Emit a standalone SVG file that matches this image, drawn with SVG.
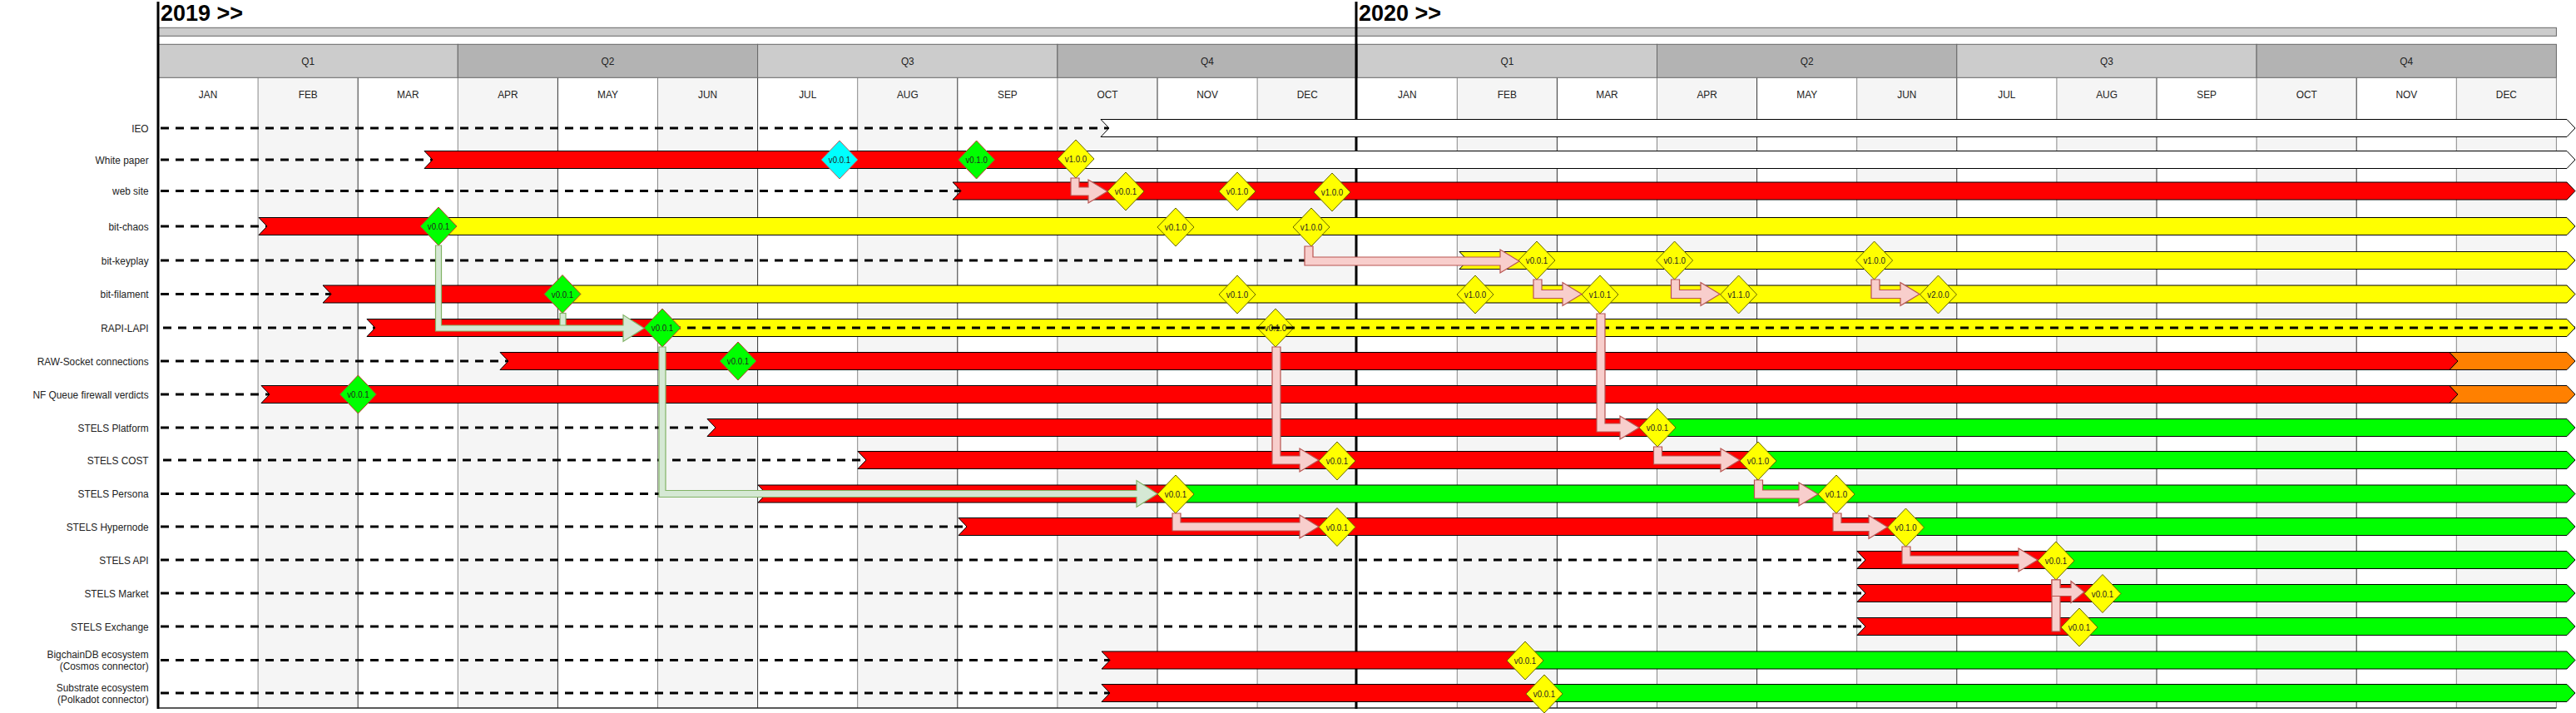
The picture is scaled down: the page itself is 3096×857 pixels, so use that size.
<svg xmlns="http://www.w3.org/2000/svg" xmlns:xlink="http://www.w3.org/1999/xlink" width="3096" height="857" viewBox="0 0 3096 857">
<defs>
<style>
text{font-family:"Liberation Sans",Arial,sans-serif;fill:#222}
.lbl{font-size:13.5px;text-anchor:end}
.mo{font-size:13.5px;text-anchor:middle}
.ms{font-size:11px;text-anchor:middle;fill:#222}
.yr{font-size:27px;font-weight:bold;fill:#000}
.dash{stroke:#000;stroke-width:3;stroke-dasharray:10 8;fill:none}
.bar{stroke:#000;stroke-width:1}
.red{fill:#FF0000}.yel{fill:#FFFF00}.grn{fill:#00FF00}.wht{fill:#FFFFFF}.org{fill:#FF8000}
.dy{fill:#FFFF00;stroke:#666600;stroke-width:1}
.dg{fill:#00FF00;stroke:#c0392b;stroke-width:1}
.dc{fill:#00FFFF;stroke:#c06060;stroke-width:1}
.pk{fill:#f8cecc;stroke:#b85450;stroke-width:1.2}
.gc{fill:#d5e8d4;stroke:#82b366;stroke-width:1.2}
.q1{fill:#CCCCCC;stroke:#666;stroke-width:1}
.q2{fill:#B3B3B3;stroke:#666;stroke-width:1}
.vb{stroke:#333;stroke-width:1}
.vg{stroke:#888;stroke-width:1}
</style>
<polygon id="dm" points="0,-23 22,0 0,23 -22,0"/>
</defs>
<rect width="3096" height="857" fill="#fff"/>

<g id="grid">
  <!-- gray month columns -->
  <g fill="#F5F5F5">
    <rect x="310.1" y="93.3" width="120.1" height="757.7"/>
    <rect x="550.3" y="93.3" width="120.1" height="757.7"/>
    <rect x="790.5" y="93.3" width="120.1" height="757.7"/>
    <rect x="1030.7" y="93.3" width="120.1" height="757.7"/>
    <rect x="1270.9" y="93.3" width="120.1" height="757.7"/>
    <rect x="1511.1" y="93.3" width="120.1" height="757.7"/>
    <rect x="1751.3" y="93.3" width="120.1" height="757.7"/>
    <rect x="1991.5" y="93.3" width="120.1" height="757.7"/>
    <rect x="2231.7" y="93.3" width="120.1" height="757.7"/>
    <rect x="2471.9" y="93.3" width="120.1" height="757.7"/>
    <rect x="2712.1" y="93.3" width="120.1" height="757.7"/>
    <rect x="2952.3" y="93.3" width="120.1" height="757.7"/>
  </g>
  <g>
    <line class="vg" x1="310.1" y1="93.3" x2="310.1" y2="851"/>
    <line class="vb" x1="430.2" y1="93.3" x2="430.2" y2="851"/>
    <line class="vg" x1="550.3" y1="93.3" x2="550.3" y2="851"/>
    <line class="vb" x1="670.4" y1="93.3" x2="670.4" y2="851"/>
    <line class="vg" x1="790.5" y1="93.3" x2="790.5" y2="851"/>
    <line class="vb" x1="910.6" y1="93.3" x2="910.6" y2="851"/>
    <line class="vg" x1="1030.7" y1="93.3" x2="1030.7" y2="851"/>
    <line class="vb" x1="1150.8" y1="93.3" x2="1150.8" y2="851"/>
    <line class="vg" x1="1270.9" y1="93.3" x2="1270.9" y2="851"/>
    <line class="vb" x1="1391" y1="93.3" x2="1391" y2="851"/>
    <line class="vg" x1="1511.1" y1="93.3" x2="1511.1" y2="851"/>
    <line class="vg" x1="1751.3" y1="93.3" x2="1751.3" y2="851"/>
    <line class="vb" x1="1871.4" y1="93.3" x2="1871.4" y2="851"/>
    <line class="vg" x1="1991.5" y1="93.3" x2="1991.5" y2="851"/>
    <line class="vb" x1="2111.6" y1="93.3" x2="2111.6" y2="851"/>
    <line class="vg" x1="2231.7" y1="93.3" x2="2231.7" y2="851"/>
    <line class="vb" x1="2351.8" y1="93.3" x2="2351.8" y2="851"/>
    <line class="vg" x1="2471.9" y1="93.3" x2="2471.9" y2="851"/>
    <line class="vb" x1="2592" y1="93.3" x2="2592" y2="851"/>
    <line class="vg" x1="2712.1" y1="93.3" x2="2712.1" y2="851"/>
    <line class="vb" x1="2832.2" y1="93.3" x2="2832.2" y2="851"/>
    <line class="vg" x1="2952.3" y1="93.3" x2="2952.3" y2="851"/>
    <line class="vg" x1="3072.4" y1="93.3" x2="3072.4" y2="851"/>
    <line x1="190" y1="851" x2="3072.4" y2="851" stroke="#222" stroke-width="1.5"/>
  </g>
  <!-- top bar -->
  <rect x="190" y="33.3" width="2882.4" height="10" fill="#CCCCCC" stroke="#666" stroke-width="1"/>
  <!-- quarters -->
  <rect class="q1" x="190" y="53.3" width="360.3" height="40"/>
  <rect class="q2" x="550.3" y="53.3" width="360.3" height="40"/>
  <rect class="q1" x="910.6" y="53.3" width="360.3" height="40"/>
  <rect class="q2" x="1270.9" y="53.3" width="360.3" height="40"/>
  <rect class="q1" x="1631.2" y="53.3" width="360.3" height="40"/>
  <rect class="q2" x="1991.5" y="53.3" width="360.3" height="40"/>
  <rect class="q1" x="2351.8" y="53.3" width="360.3" height="40"/>
  <rect class="q2" x="2712.1" y="53.3" width="360.3" height="40"/>
  <text class="mo" transform="matrix(0.88 0 0 1 370.2 78)">Q1</text>
  <text class="mo" transform="matrix(0.88 0 0 1 730.4 78)">Q2</text>
  <text class="mo" transform="matrix(0.88 0 0 1 1090.8 78)">Q3</text>
  <text class="mo" transform="matrix(0.88 0 0 1 1451 78)">Q4</text>
  <text class="mo" transform="matrix(0.88 0 0 1 1811.4 78)">Q1</text>
  <text class="mo" transform="matrix(0.88 0 0 1 2171.6 78)">Q2</text>
  <text class="mo" transform="matrix(0.88 0 0 1 2532 78)">Q3</text>
  <text class="mo" transform="matrix(0.88 0 0 1 2892.2 78)">Q4</text>
  <!-- months -->
  <text class="mo" transform="matrix(0.88 0 0 1 250 118)">JAN</text>
  <text class="mo" transform="matrix(0.88 0 0 1 370.2 118)">FEB</text>
  <text class="mo" transform="matrix(0.88 0 0 1 490.3 118)">MAR</text>
  <text class="mo" transform="matrix(0.88 0 0 1 610.4 118)">APR</text>
  <text class="mo" transform="matrix(0.88 0 0 1 730.5 118)">MAY</text>
  <text class="mo" transform="matrix(0.88 0 0 1 850.6 118)">JUN</text>
  <text class="mo" transform="matrix(0.88 0 0 1 970.7 118)">JUL</text>
  <text class="mo" transform="matrix(0.88 0 0 1 1090.8 118)">AUG</text>
  <text class="mo" transform="matrix(0.88 0 0 1 1210.9 118)">SEP</text>
  <text class="mo" transform="matrix(0.88 0 0 1 1331 118)">OCT</text>
  <text class="mo" transform="matrix(0.88 0 0 1 1451.1 118)">NOV</text>
  <text class="mo" transform="matrix(0.88 0 0 1 1571.2 118)">DEC</text>
  <text class="mo" transform="matrix(0.88 0 0 1 1691.3 118)">JAN</text>
  <text class="mo" transform="matrix(0.88 0 0 1 1811.4 118)">FEB</text>
  <text class="mo" transform="matrix(0.88 0 0 1 1931.5 118)">MAR</text>
  <text class="mo" transform="matrix(0.88 0 0 1 2051.6 118)">APR</text>
  <text class="mo" transform="matrix(0.88 0 0 1 2171.7 118)">MAY</text>
  <text class="mo" transform="matrix(0.88 0 0 1 2291.8 118)">JUN</text>
  <text class="mo" transform="matrix(0.88 0 0 1 2411.9 118)">JUL</text>
  <text class="mo" transform="matrix(0.88 0 0 1 2532 118)">AUG</text>
  <text class="mo" transform="matrix(0.88 0 0 1 2652.1 118)">SEP</text>
  <text class="mo" transform="matrix(0.88 0 0 1 2772.2 118)">OCT</text>
  <text class="mo" transform="matrix(0.88 0 0 1 2892.3 118)">NOV</text>
  <text class="mo" transform="matrix(0.88 0 0 1 3012.4 118)">DEC</text>
  <!-- year lines -->
  <line x1="190" y1="2" x2="190" y2="852" stroke="#000" stroke-width="3"/>
  <line x1="1630" y1="2" x2="1630" y2="852" stroke="#000" stroke-width="3"/>
  <text class="yr" x="193" y="25">2019 &gt;&gt;</text>
  <text class="yr" x="1633" y="25">2020 &gt;&gt;</text>
</g>

<g id="row-ieo">
  <text class="lbl" transform="matrix(0.88 0 0 1 178.6 158.8)">IEO</text>
  <line class="dash" x1="193" y1="154" x2="1333" y2="154"/>
  <path class="bar wht" d="M1323 143.5H3085L3095 154L3085 164.5H1323L1333 154Z"/>
</g>

<g id="row-whitepaper">
  <text class="lbl" transform="matrix(0.88 0 0 1 178.6 196.8)">White paper</text>
  <line class="dash" x1="193" y1="192" x2="520" y2="192"/>
  <path class="bar red" d="M510 181.5H1293L1303 192L1293 202.5H510L520 192Z"/>
  <path class="bar wht" d="M1293 181.5H3085L3095 192L3085 202.5H1293L1303 192Z"/>
  <use xlink:href="#dm" x="1009" y="192" class="dc"/>
  <text class="ms" transform="matrix(0.88 0 0 1 1009 196)">v0.0.1</text>
  <use xlink:href="#dm" x="1173.6" y="192" class="dg"/>
  <text class="ms" transform="matrix(0.88 0 0 1 1173.6 196)">v0.1.0</text>
  <use xlink:href="#dm" x="1293" y="191" class="dy"/>
  <text class="ms" transform="matrix(0.88 0 0 1 1293 195)">v1.0.0</text>
</g>

<g id="row-website">
  <text class="lbl" transform="matrix(0.88 0 0 1 178.6 234.3)">web site</text>
  <line class="dash" x1="193" y1="229.5" x2="1155" y2="229.5"/>
  <path class="bar red" d="M1145 219H3085L3095 229.5L3085 240H1145L1155 229.5Z"/>
  <use xlink:href="#dm" x="1353" y="230" class="dy"/>
  <text class="ms" transform="matrix(0.88 0 0 1 1353 234)">v0.0.1</text>
  <use xlink:href="#dm" x="1487" y="230" class="dy"/>
  <text class="ms" transform="matrix(0.88 0 0 1 1487 234)">v0.1.0</text>
  <use xlink:href="#dm" x="1601" y="231" class="dy"/>
  <text class="ms" transform="matrix(0.88 0 0 1 1601 235)">v1.0.0</text>
</g>

<g id="row-bitchaos">
  <text class="lbl" transform="matrix(0.88 0 0 1 178.6 276.8)">bit-chaos</text>
  <line class="dash" x1="193" y1="272" x2="321" y2="272"/>
  <path class="bar red" d="M311 261.5H527L537 272L527 282.5H311L321 272Z"/>
  <path class="bar yel" d="M527 261.5H3085L3095 272L3085 282.5H527L537 272Z"/>
  <use xlink:href="#dm" x="527" y="272" class="dg"/>
  <text class="ms" transform="matrix(0.88 0 0 1 527 276)">v0.0.1</text>
  <use xlink:href="#dm" x="1413" y="273" class="dy"/>
  <text class="ms" transform="matrix(0.88 0 0 1 1413 277)">v0.1.0</text>
  <use xlink:href="#dm" x="1576" y="273" class="dy"/>
  <text class="ms" transform="matrix(0.88 0 0 1 1576 277)">v1.0.0</text>
</g>

<g id="row-bitkeyplay">
  <text class="lbl" transform="matrix(0.88 0 0 1 178.6 317.8)">bit-keyplay</text>
  <line class="dash" x1="193" y1="313" x2="1764" y2="313"/>
  <path class="bar yel" d="M1754 302.5H3085L3095 313L3085 323.5H1754L1764 313Z"/>
  <use xlink:href="#dm" x="1847" y="313" class="dy"/>
  <text class="ms" transform="matrix(0.88 0 0 1 1847 317)">v0.0.1</text>
  <use xlink:href="#dm" x="2012.6" y="313" class="dy"/>
  <text class="ms" transform="matrix(0.88 0 0 1 2012.6 317)">v0.1.0</text>
  <use xlink:href="#dm" x="2252.6" y="313" class="dy"/>
  <text class="ms" transform="matrix(0.88 0 0 1 2252.6 317)">v1.0.0</text>
</g>

<g id="row-bitfilament">
  <text class="lbl" transform="matrix(0.88 0 0 1 178.6 358.3)">bit-filament</text>
  <line class="dash" x1="193" y1="353.5" x2="398" y2="353.5"/>
  <path class="bar red" d="M388 343H676L686 353.5L676 364H388L398 353.5Z"/>
  <path class="bar yel" d="M676 343H3085L3095 353.5L3085 364H676L686 353.5Z"/>
  <use xlink:href="#dm" x="676" y="353.5" class="dg"/>
  <text class="ms" transform="matrix(0.88 0 0 1 676 357.5)">v0.0.1</text>
  <use xlink:href="#dm" x="1487" y="354" class="dy"/>
  <text class="ms" transform="matrix(0.88 0 0 1 1487 358)">v0.1.0</text>
  <use xlink:href="#dm" x="1773" y="354" class="dy"/>
  <text class="ms" transform="matrix(0.88 0 0 1 1773 358)">v1.0.0</text>
  <use xlink:href="#dm" x="1923" y="354" class="dy"/>
  <text class="ms" transform="matrix(0.88 0 0 1 1923 358)">v1.0.1</text>
  <use xlink:href="#dm" x="2089.6" y="354" class="dy"/>
  <text class="ms" transform="matrix(0.88 0 0 1 2089.6 358)">v1.1.0</text>
  <use xlink:href="#dm" x="2329.5" y="354" class="dy"/>
  <text class="ms" transform="matrix(0.88 0 0 1 2329.5 358)">v2.0.0</text>
</g>

<g id="row-rapilapi">
  <text class="lbl" transform="matrix(0.88 0 0 1 178.6 398.8)">RAPI-LAPI</text>
  <path class="bar yel" d="M796 383.5H3085L3095 394L3085 404.5H796L806 394Z"/>
  <use xlink:href="#dm" x="1533" y="394" class="dy"/>
  <text class="ms" transform="matrix(0.88 0 0 1 1533 398)">v0.1.0</text>
  <line class="dash" x1="196" y1="394" x2="3095" y2="394"/>
  <path class="bar red" d="M441 383.5H796L806 394L796 404.5H441L451 394Z"/>
  <use xlink:href="#dm" x="796" y="394" class="dg"/>
  <text class="ms" transform="matrix(0.88 0 0 1 796 398)">v0.0.1</text>
</g>

<g id="row-rawsocket">
  <text class="lbl" transform="matrix(0.88 0 0 1 178.6 438.8)">RAW-Socket connections</text>
  <line class="dash" x1="193" y1="434" x2="611" y2="434"/>
  <path class="bar red" d="M601 423.5H2944L2954 434L2944 444.5H601L611 434Z"/>
  <path class="bar org" d="M2944 423.5H3085L3095 434L3085 444.5H2944L2954 434Z"/>
  <use xlink:href="#dm" x="887" y="434" class="dg"/>
  <text class="ms" transform="matrix(0.88 0 0 1 887 438)">v0.0.1</text>
</g>

<g id="row-nfqueue">
  <text class="lbl" transform="matrix(0.88 0 0 1 178.6 478.8)">NF Queue firewall verdicts</text>
  <line class="dash" x1="193" y1="474" x2="324" y2="474"/>
  <path class="bar red" d="M314 463.5H2944L2954 474L2944 484.5H314L324 474Z"/>
  <path class="bar org" d="M2944 463.5H3085L3095 474L3085 484.5H2944L2954 474Z"/>
  <use xlink:href="#dm" x="430.4" y="474" class="dg"/>
  <text class="ms" transform="matrix(0.88 0 0 1 430.4 478)">v0.0.1</text>
</g>

<g id="row-platform">
  <text class="lbl" transform="matrix(0.88 0 0 1 178.6 518.8)">STELS Platform</text>
  <line class="dash" x1="193" y1="514" x2="860" y2="514"/>
  <path class="bar red" d="M850 503.5H1992L2002 514L1992 524.5H850L860 514Z"/>
  <path class="bar grn" d="M1992 503.5H3085L3095 514L3085 524.5H1992L2002 514Z"/>
  <use xlink:href="#dm" x="1992" y="514" class="dy"/>
  <text class="ms" transform="matrix(0.88 0 0 1 1992 518)">v0.0.1</text>
</g>

<g id="row-cost">
  <text class="lbl" transform="matrix(0.88 0 0 1 178.6 557.8)">STELS COST</text>
  <line class="dash" x1="196" y1="553" x2="1041" y2="553"/>
  <path class="bar red" d="M1031 542.5H2113L2123 553L2113 563.5H1031L1041 553Z"/>
  <path class="bar grn" d="M2113 542.5H3085L3095 553L3085 563.5H2113L2123 553Z"/>
  <use xlink:href="#dm" x="1607" y="554" class="dy"/>
  <text class="ms" transform="matrix(0.88 0 0 1 1607 558)">v0.0.1</text>
  <use xlink:href="#dm" x="2113" y="554" class="dy"/>
  <text class="ms" transform="matrix(0.88 0 0 1 2113 558)">v0.1.0</text>
</g>

<g id="row-persona">
  <text class="lbl" transform="matrix(0.88 0 0 1 178.6 598.3)">STELS Persona</text>
  <line class="dash" x1="193" y1="593.5" x2="921" y2="593.5"/>
  <path class="bar red" d="M911 583H1413L1423 593.5L1413 604H911L921 593.5Z"/>
  <path class="bar grn" d="M1413 583H3085L3095 593.5L3085 604H1413L1423 593.5Z"/>
  <use xlink:href="#dm" x="1413" y="594" class="dy"/>
  <text class="ms" transform="matrix(0.88 0 0 1 1413 598)">v0.0.1</text>
  <use xlink:href="#dm" x="2207" y="594" class="dy"/>
  <text class="ms" transform="matrix(0.88 0 0 1 2207 598)">v0.1.0</text>
</g>

<g id="row-hypernode">
  <text class="lbl" transform="matrix(0.88 0 0 1 178.6 637.8)">STELS Hypernode</text>
  <line class="dash" x1="193" y1="633" x2="1162" y2="633"/>
  <path class="bar red" d="M1152 622.5H2290L2300 633L2290 643.5H1152L1162 633Z"/>
  <path class="bar grn" d="M2290 622.5H3085L3095 633L3085 643.5H2290L2300 633Z"/>
  <use xlink:href="#dm" x="1607" y="633.5" class="dy"/>
  <text class="ms" transform="matrix(0.88 0 0 1 1607 637.5)">v0.0.1</text>
  <use xlink:href="#dm" x="2290.5" y="634" class="dy"/>
  <text class="ms" transform="matrix(0.88 0 0 1 2290.5 638)">v0.1.0</text>
</g>

<g id="row-api">
  <text class="lbl" transform="matrix(0.88 0 0 1 178.6 677.8)">STELS API</text>
  <line class="dash" x1="193" y1="673" x2="2242" y2="673"/>
  <path class="bar red" d="M2232 662.5H2471L2481 673L2471 683.5H2232L2242 673Z"/>
  <path class="bar grn" d="M2471 662.5H3085L3095 673L3085 683.5H2471L2481 673Z"/>
  <use xlink:href="#dm" x="2471" y="674" class="dy"/>
  <text class="ms" transform="matrix(0.88 0 0 1 2471 678)">v0.0.1</text>
</g>

<g id="row-market">
  <text class="lbl" transform="matrix(0.88 0 0 1 178.6 717.8)">STELS Market</text>
  <line class="dash" x1="193" y1="713" x2="2242" y2="713"/>
  <path class="bar red" d="M2232 702.5H2527L2537 713L2527 723.5H2232L2242 713Z"/>
  <path class="bar grn" d="M2527 702.5H3085L3095 713L3085 723.5H2527L2537 713Z"/>
  <use xlink:href="#dm" x="2527" y="713.5" class="dy"/>
  <text class="ms" transform="matrix(0.88 0 0 1 2527 717.5)">v0.0.1</text>
</g>

<g id="row-exchange">
  <text class="lbl" transform="matrix(0.88 0 0 1 178.6 757.8)">STELS Exchange</text>
  <line class="dash" x1="193" y1="753" x2="2242" y2="753"/>
  <path class="bar red" d="M2232 742.5H2499L2509 753L2499 763.5H2232L2242 753Z"/>
  <path class="bar grn" d="M2499 742.5H3085L3095 753L3085 763.5H2499L2509 753Z"/>
  <use xlink:href="#dm" x="2499" y="754" class="dy"/>
  <text class="ms" transform="matrix(0.88 0 0 1 2499 758)">v0.0.1</text>
</g>

<g id="row-bigchaindb">
  <text class="lbl" transform="matrix(0.88 0 0 1 178.6 791)">BigchainDB ecosystem</text>
  <text class="lbl" transform="matrix(0.88 0 0 1 178.6 805)">(Cosmos connector)</text>
  <line class="dash" x1="193" y1="793.5" x2="1334" y2="793.5"/>
  <path class="bar red" d="M1324 783H1833L1843 793.5L1833 804H1324L1334 793.5Z"/>
  <path class="bar grn" d="M1833 783H3085L3095 793.5L3085 804H1833L1843 793.5Z"/>
  <use xlink:href="#dm" x="1833" y="794" class="dy"/>
  <text class="ms" transform="matrix(0.88 0 0 1 1833 798)">v0.0.1</text>
</g>

<g id="row-substrate">
  <text class="lbl" transform="matrix(0.88 0 0 1 178.6 831)">Substrate ecosystem</text>
  <text class="lbl" transform="matrix(0.88 0 0 1 178.6 845)">(Polkadot connector)</text>
  <line class="dash" x1="193" y1="833" x2="1334" y2="833"/>
  <path class="bar red" d="M1324 822.5H1856L1866 833L1856 843.5H1324L1334 833Z"/>
  <path class="bar grn" d="M1856 822.5H3085L3095 833L3085 843.5H1856L1866 833Z"/>
  <use xlink:href="#dm" x="1856" y="834" class="dy"/>
  <text class="ms" transform="matrix(0.88 0 0 1 1856 838)">v0.0.1</text>
</g>

<g id="connectors">
  <!-- green -->
  <rect class="gc" x="673" y="376.5" width="7" height="18"/>
  <polygon class="gc" points="523.5,295 530.5,295 530.5,391 749,391 749,378.5 774,394.5 749,410.5 749,398 523.5,398"/>
  <polygon class="gc" points="792,417 800,417 800,589.5 1366,589.5 1366,577.5 1391,593.5 1366,609.5 1366,597.5 792,597.5"/>
  <!-- pink -->
  <polygon class="pk" points="1287,214 1297,214 1297,225 1308,225 1308,216 1331,230 1308,244 1308,235 1287,235"/>
  <polygon class="pk" points="1568,296 1578,296 1578,309 1803,309 1803,300 1826,314 1803,328 1803,319 1568,319"/>
  <polygon class="pk" points="1843,336 1853,336 1853,348.5 1878,348.5 1878,339.5 1901,353.5 1878,367.5 1878,358.5 1843,358.5"/>
  <polygon class="pk" points="2008.5,336 2018.5,336 2018.5,348.5 2044,348.5 2044,339.5 2067,353.5 2044,367.5 2044,358.5 2008.5,358.5"/>
  <polygon class="pk" points="2249,336 2259,336 2259,348.5 2284,348.5 2284,339.5 2307,353.5 2284,367.5 2284,358.5 2249,358.5"/>
  <polygon class="pk" points="1919,377 1929,377 1929,509 1947,509 1947,500 1970,514 1947,528 1947,519 1919,519"/>
  <polygon class="pk" points="1529,417 1539,417 1539,548 1562,548 1562,539 1585,553 1562,567 1562,558 1529,558"/>
  <polygon class="pk" points="1987.5,537 1997.5,537 1997.5,548 2068,548 2068,539 2091,553 2068,567 2068,558 1987.5,558"/>
  <polygon class="pk" points="2108.5,577 2118.5,577 2118.5,589 2162,589 2162,580 2185,594 2162,608 2162,599 2108.5,599"/>
  <polygon class="pk" points="1409,617 1419,617 1419,628 1562,628 1562,619 1585,633 1562,647 1562,638 1409,638"/>
  <polygon class="pk" points="2203,617 2213,617 2213,628.5 2246,628.5 2246,619.5 2268.5,633.5 2246,647.5 2246,638.5 2203,638.5"/>
  <polygon class="pk" points="2286,657 2296,657 2296,668 2426,668 2426,659 2449,673 2426,687 2426,678 2286,678"/>
  <rect class="pk" x="2466" y="697" width="10" height="62"/>
  <polygon class="pk" points="2466,697 2476,697 2476,706.5 2489,706.5 2489,698.5 2505,711.5 2489,724.5 2489,716.5 2466,716.5"/>
</g>
</svg>
